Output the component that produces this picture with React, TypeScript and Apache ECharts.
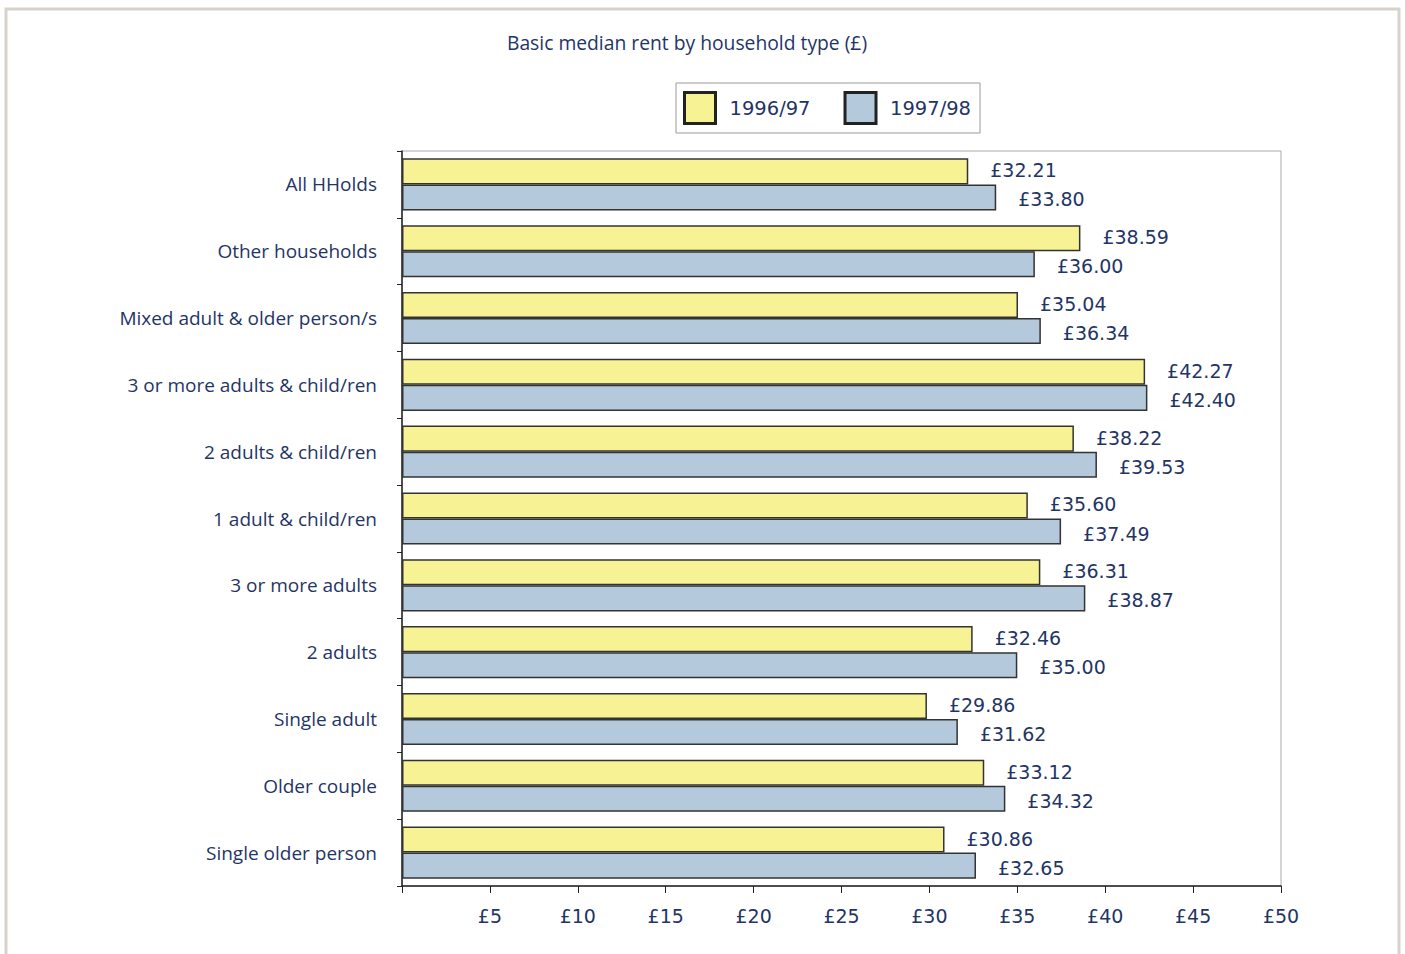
import React, { useEffect, useRef } from "react";
import * as echarts from "echarts";

const categories = [
  "All HHolds",
  "Other households",
  "Mixed adult & older person/s",
  "3 or more adults & child/ren",
  "2 adults & child/ren",
  "1 adult & child/ren",
  "3 or more adults",
  "2 adults",
  "Single adult",
  "Older couple",
  "Single older person",
];
const rent9697 = [32.21, 38.59, 35.04, 42.27, 38.22, 35.6, 36.31, 32.46, 29.86, 33.12, 30.86];
const rent9798 = [33.8, 36.0, 36.34, 42.4, 39.53, 37.49, 38.87, 35.0, 31.62, 34.32, 32.65];
const seriesNames = ["1996/97", "1997/98"];
const title = "Basic median rent by household type (£)";

const TEXT = "#1f3566";
const FONT = "'Open Sans', 'Liberation Sans', Arial, sans-serif";
const NUMFONT = "'DejaVu Sans', 'Open Sans', sans-serif";

export default function App() {
  const ref = useRef<HTMLDivElement>(null);
  useEffect(() => {
    const chart = echarts.init(ref.current!, null, { renderer: "svg" });
    const mkLabel = (dy: number) => ({
      show: true,
      position: "right",
      distance: 22,
      offset: [0, dy],
      color: TEXT,
      fontSize: 19,
      fontFamily: NUMFONT,
      formatter: (p: any) => "£" + Number(p.value).toFixed(2),
    });
    chart.setOption({
      animation: false,
      backgroundColor: "#fff",
      textStyle: { fontFamily: FONT, color: TEXT },
      title: {
        text: title,
        left: 682,
        textAlign: "center",
        top: 28,
        textStyle: { fontSize: 19.3, fontWeight: "normal", color: TEXT, fontFamily: FONT },
      },
      graphic: [
        {
          type: "rect",
          shape: { x: 6, y: 9, width: 1393, height: 980 },
          style: { fill: "none", stroke: "#d8d2cc", lineWidth: 3 },
          silent: true,
        },
      ],
      legend: {
        left: 676,
        top: 83,
        orient: "horizontal",
        data: seriesNames,
        itemWidth: 31,
        itemHeight: 31,
        itemGap: 33,
        padding: [8, 9, 8, 7],
        borderColor: "#999",
        borderWidth: 1,
        icon: "rect",
        itemStyle: { borderColor: "#222", borderWidth: 3 },
        textStyle: { fontSize: 19.5, color: TEXT, fontFamily: NUMFONT, padding: [0, 0, 0, 9] },
      },
      grid: { left: 402, top: 151, right: 124, bottom: 68, show: true, borderColor: "#aaa", borderWidth: 1 },
      xAxis: {
        type: "value",
        min: 0,
        max: 50,
        interval: 5,
        axisLine: { show: true, lineStyle: { color: "#222", width: 1.5 } },
        axisTick: { show: true, length: 7, lineStyle: { color: "#222" } },
        splitLine: { show: false },
        axisLabel: {
          margin: 20,
          fontSize: 19,
          color: TEXT,
          fontFamily: NUMFONT,
          formatter: (v: number) => (v === 0 ? "" : "£" + v),
        },
      },
      yAxis: {
        type: "category",
        data: categories,
        inverse: true,
        axisLine: { show: true, lineStyle: { color: "#222", width: 1.5 } },
        axisTick: { show: true, length: 5, alignWithLabel: false, lineStyle: { color: "#222" } },
        axisLabel: { margin: 25, fontSize: 19, color: TEXT, fontFamily: FONT },
      },
      series: [
        {
          name: seriesNames[0],
          type: "bar",
          data: rent9697,
          barGap: "0%",
          barCategoryGap: "22%",
          itemStyle: { color: "#f7f394", borderColor: "#333", borderWidth: 1.5 },
          label: mkLabel(-1),
        },
        {
          name: seriesNames[1],
          type: "bar",
          data: rent9798,
          barGap: "0%",
          barCategoryGap: "22%",
          itemStyle: { color: "#b4c9dc", borderColor: "#333", borderWidth: 1.5 },
          label: mkLabel(2),
        },
      ],
    });
    return () => chart.dispose();
  }, []);
  return (
    <div
      ref={ref}
      style={{ position: "absolute", left: 0, top: 0, width: 1405, height: 954 }}
    />
  );
}
